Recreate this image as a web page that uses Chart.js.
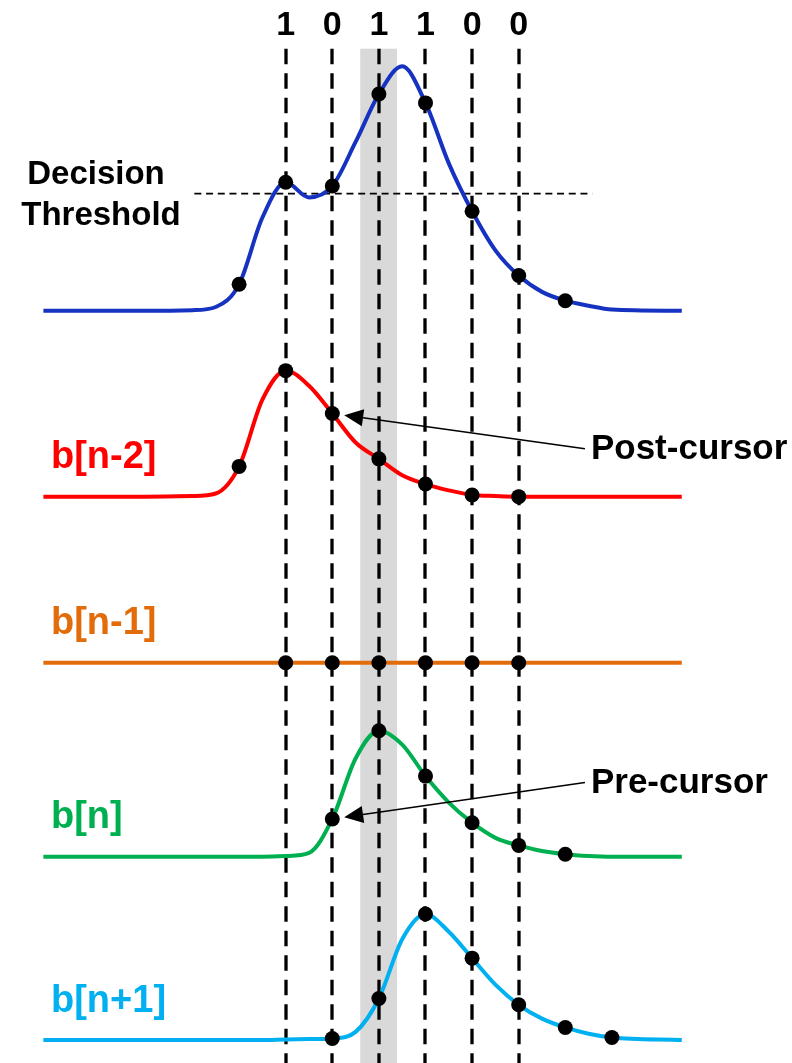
<!DOCTYPE html>
<html>
<head>
<meta charset="utf-8">
<script src="https://cdn.jsdelivr.net/npm/chart.js@4.4.1/dist/chart.umd.min.js"></script>
<style>
  html, body { margin: 0; padding: 0; background: #fff; }
  #wrap { position: relative; width: 792px; height: 1063px; }
</style>
</head>
<body>
<div id="wrap"><canvas id="isiChart"></canvas></div>
<script>
// time in unit intervals (UI); the integers are the sampling instants
const t = [-5.2, -4, -3, -2, -1.5, -1, -0.5, 0, 0.5, 1, 1.5, 2, 2.5, 3, 3.5, 4, 4.5, 5, 5.5, 6, 6.5, 7, 8.5];

// pulse amplitudes, % of the main cursor
const sumPulse = [0, 0, 0, 0.5, 3, 21, 74, 102, 90, 99, 134, 172, 194, 165, 117, 79, 48, 28, 15, 8, 4, 1, 0];
const bnMinus2 = [0, 0, 0, 0.5, 2.5, 24, 77, 100, 88, 66, 43, 30, 17, 10, 5, 1.3, 0.5, 0, 0, 0, 0, 0, 0];
const bnMinus1 = [0, 0, 0, 0, 0, 0, 0, 0, 0, 0, 0, 0, 0, 0, 0, 0, 0, 0, 0, 0, 0, 0, 0];
const bn       = [0, 0, 0, 0, 0, 0, 0, 0.5, 3, 30, 78, 100, 89, 64, 43, 27, 15, 9, 4.5, 2, 0.6, 0, 0];
const bnPlus1  = [0, 0, 0, 0, 0, 0, 0, 0.5, 0.8, 1.3, 6.5, 33, 80, 100, 86, 65, 44, 28, 17, 10, 5, 2, 0];

const bits = [1, 0, 1, 1, 0, 0];
const threshold = 93;   // decision threshold on the summed pulse

// vertical placement of each trace (baseline, in amplitude units)
const lanes = { sum: 597, nm2: 449.5, nm1: 317.7, n: 163.7, np1: 18.2 };

const FONT = '"Liberation Sans", Arial, Helvetica, sans-serif';

function trace(label, values, lane, color, dotFrom, dotTo) {
  return {
    label,
    data: t.map((x, i) => ({ x, y: lane + values[i] })),
    borderColor: color,
    borderWidth: 4,
    cubicInterpolationMode: 'monotone',
    pointRadius: ctx => {
      const x = t[ctx.dataIndex];
      return Number.isInteger(x) && x >= dotFrom && x <= dotTo ? 7.5 : 0;
    },
    pointBackgroundColor: '#000',
    pointBorderWidth: 0,
    pointHoverRadius: 0,
    fill: false
  };
}

function arrow(ctx, x0, y0, x1, y1) {
  const a = Math.atan2(y1 - y0, x1 - x0);
  const len = 19, half = 8.5;
  const bx = x1 - len * Math.cos(a), by = y1 - len * Math.sin(a);
  ctx.beginPath();
  ctx.moveTo(x0, y0);
  ctx.lineTo(bx, by);
  ctx.lineWidth = 1.6;
  ctx.strokeStyle = '#000';
  ctx.stroke();
  ctx.beginPath();
  ctx.moveTo(x1, y1);
  ctx.lineTo(bx + half * Math.sin(a), by - half * Math.cos(a));
  ctx.lineTo(bx - half * Math.sin(a), by + half * Math.cos(a));
  ctx.closePath();
  ctx.fillStyle = '#000';
  ctx.fill();
}

const samplingGrid = {
  id: 'samplingGrid',
  beforeDatasetsDraw(chart) {
    const { ctx, scales: { x, y }, chartArea } = chart;
    const top = y.getPixelForValue(805);
    ctx.save();
    // shaded main-cursor instant
    const b0 = x.getPixelForValue(1.6), b1 = x.getPixelForValue(2.39);
    ctx.fillStyle = '#d9d9d9';
    ctx.fillRect(b0, top, b1 - b0, chartArea.bottom - top);
    // sampling instants
    ctx.strokeStyle = '#000';
    ctx.lineWidth = 3.3;
    ctx.setLineDash([15.5, 9]);
    bits.forEach((_, k) => {
      const px = Math.round(x.getPixelForValue(k));
      ctx.beginPath();
      ctx.moveTo(px, top);
      ctx.lineTo(px, chartArea.bottom);
      ctx.stroke();
    });
    // decision threshold
    const ty = y.getPixelForValue(lanes.sum + threshold);
    ctx.lineWidth = 1.6;
    ctx.setLineDash([7, 4.7]);
    ctx.beginPath();
    ctx.moveTo(x.getPixelForValue(-1.96), ty);
    ctx.lineTo(x.getPixelForValue(6.58), ty);
    ctx.stroke();
    ctx.restore();
  },
  afterDatasetsDraw(chart) {
    const { ctx, scales: { x, y } } = chart;
    ctx.save();
    ctx.textBaseline = 'alphabetic';

    // bit sequence above the sampling instants
    ctx.fillStyle = '#000';
    ctx.font = 'bold 34px ' + FONT;
    ctx.textAlign = 'center';
    bits.forEach((b, k) => ctx.fillText(String(b), x.getPixelForValue(k), 35));

    // threshold caption
    const ty = y.getPixelForValue(lanes.sum + threshold);
    ctx.textAlign = 'center';
    ctx.font = 'bold 33px ' + FONT;
    ctx.fillText('Decision', 96, ty - 10);
    ctx.fillText('Threshold', 101, ty + 31);

    // trace names
    ctx.textAlign = 'left';
    ctx.font = 'bold 38px ' + FONT;
    [['b[n-2]', lanes.nm2, '#ff0000'], ['b[n-1]', lanes.nm1, '#e36c0a'],
     ['b[n]', lanes.n, '#00b050'], ['b[n+1]', lanes.np1, '#00b0f0']].forEach(([txt, lane, col]) => {
      ctx.fillStyle = col;
      ctx.fillText(txt, 51, y.getPixelForValue(lane) - 28.5);
    });

    // cursor callouts
    ctx.fillStyle = '#000';
    ctx.font = 'bold 35px ' + FONT;
    const tx = x.getPixelForValue(6.55);
    const notes = [
      ['Post-cursor', y.getPixelForValue(lanes.nm2) - 37.4, 1, lanes.nm2 + bnMinus2[t.indexOf(1)]],
      ['Pre-cursor', y.getPixelForValue(lanes.n) - 63.7, 1, lanes.n + bn[t.indexOf(1)]]
    ];
    notes.forEach(([txt, base, k, val]) => {
      ctx.fillText(txt, tx, base);
      const x0 = tx - 6, y0 = base - 10.5;
      const dx = x.getPixelForValue(k), dy = y.getPixelForValue(val);
      const d = Math.hypot(x0 - dx, y0 - dy);
      const tipX = dx + (x0 - dx) * 12 / d, tipY = dy + (y0 - dy) * 12 / d;
      arrow(ctx, x0, y0, tipX, tipY);
    });
    ctx.restore();
  }
};

new Chart(document.getElementById('isiChart'), {
  type: 'line',
  data: {
    datasets: [
      trace('sum', sumPulse, lanes.sum, '#1632c0', -1, 6),
      trace('b[n-2]', bnMinus2, lanes.nm2, '#ff0000', -1, 5),
      trace('b[n-1]', bnMinus1, lanes.nm1, '#e36c0a', 0, 5),
      trace('b[n]', bn, lanes.n, '#00b050', 1, 6),
      trace('b[n+1]', bnPlus1, lanes.np1, '#00b0f0', 1, 7)
    ]
  },
  options: {
    responsive: true,
    maintainAspectRatio: false,
    animation: false,
    devicePixelRatio: 1,
    layout: { padding: 0 },
    events: [],
    plugins: { legend: { display: false }, tooltip: { enabled: false } },
    scales: {
      x: { type: 'linear', min: -6.131, max: 10.865, display: false },
      y: { type: 'linear', min: 0, max: 843.65, display: false }
    }
  },
  plugins: [samplingGrid]
});
</script>
</body>
</html>
